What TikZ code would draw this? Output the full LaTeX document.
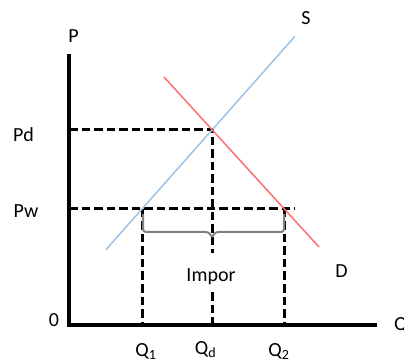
\documentclass[tikz,border=0pt]{standalone}
\usepackage{fontspec}
\setmainfont{Carlito}
\definecolor{supplyblue}{RGB}{157,195,230}
\definecolor{demandred}{RGB}{255,110,110}
\definecolor{bracegray}{RGB}{128,128,128}
\begin{document}
\begin{tikzpicture}[x=1pt,y=-1pt,
  font=\fontsize{20}{24}\selectfont,
  axisline/.style={line width=3.2pt},
  guide/.style={line width=3pt, dash pattern=on 8.5pt off 4pt},
  supplyline/.style={draw=supplyblue, line width=1.5pt},
  demandline/.style={draw=demandred, line width=1.5pt},
  bracepath/.style={draw=bracegray, line width=2pt, rounded corners=3pt},
  lbl/.style={inner sep=0pt}]
\clip (0,0) rectangle (404,363);
\useasboundingbox (0,0) rectangle (404,363);
% coordinates
\coordinate (O) at (69,325);
\coordinate (ytop) at (69,54);
\coordinate (xend) at (377,325);
\coordinate (S1) at (106,249.6);
\coordinate (S2) at (295,36.3);
\coordinate (D1) at (164,77);
\coordinate (D2) at (319,247);
\coordinate (E) at (212,130);
\coordinate (Pdax) at (69,130);
\coordinate (Pwax) at (69,209);
\coordinate (Pwend) at (295,209);
\coordinate (A) at (142,209);
\coordinate (B) at (284,209);
\coordinate (Q1ax) at (142,325);
\coordinate (Qdax) at (212,325);
\coordinate (Q2ax) at (284,325);
\coordinate (gapTop) at (212,253);
\coordinate (gapBot) at (212,292);
% axes
\draw[axisline] (ytop) -- (O) -- (xend);
% dashed guides
\draw[guide] (Pdax) -- (E) -- (gapTop);
\draw[guide] (gapBot) -- (Qdax);
\draw[guide] (Pwax) -- (Pwend);
\draw[guide] (A) -- (Q1ax);
\draw[guide] (B) -- (Q2ax);
% brace
\draw[bracepath] (143,214) -- (143,232) -- (209,232) -- (212,238) -- (215,232) -- (284,232) -- (284,214);
% curves
\draw[supplyline] (S1) -- (S2);
\draw[demandline] (D1) -- (D2);
% labels
\node[lbl] (P) at (73.5,36.5) {P};
\node[lbl] (S) at (306,18.5) {S};
\node[lbl] (Pd) at (23.5,135) {Pd};
\node[lbl] (Pw) at (26,211.5) {Pw};
\node[lbl] (D) at (341.5,271.5) {D};
\node[lbl] (zero) at (54,320) {0};
\node[lbl, anchor=base] (imp) at (211,281) {Impor};
\node[lbl, anchor=base] (q1) at (146,356) {Q\textsubscript{1}};
\node[lbl, anchor=base] (qd) at (205.5,354) {Q\textsubscript{d}};
\node[lbl, anchor=base] (q2) at (279,356) {Q\textsubscript{2}};
\node[lbl, anchor=west] (qaxis) at (394,325) {Q};
\end{tikzpicture}
\end{document}
